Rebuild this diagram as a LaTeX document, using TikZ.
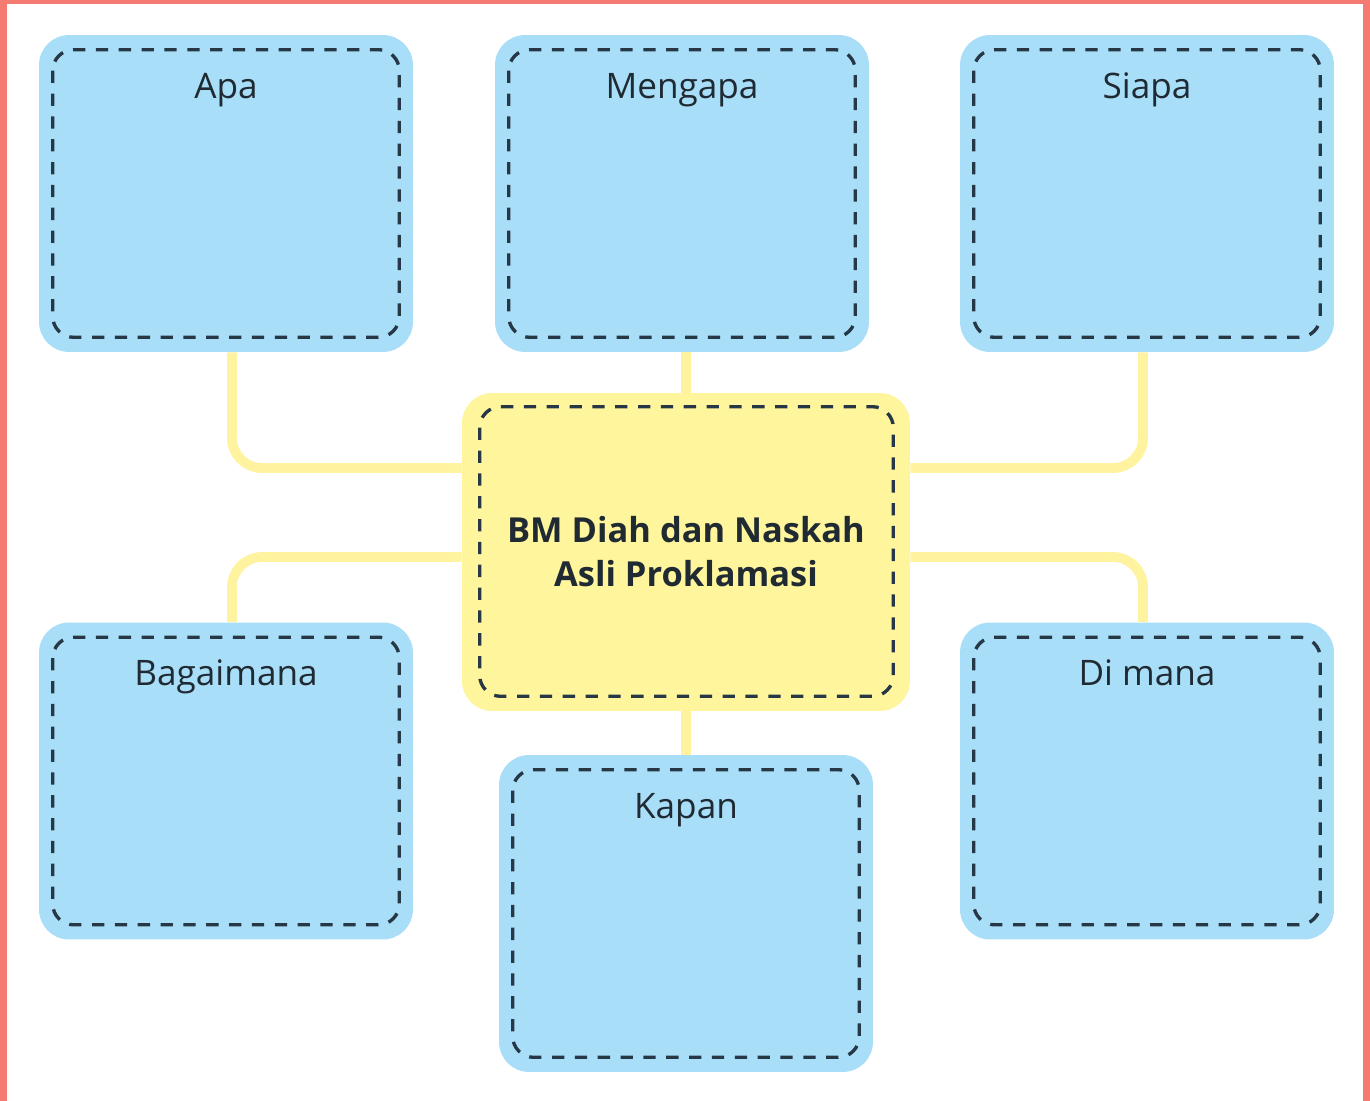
\documentclass[tikz,border=0pt]{standalone}
\usepackage{fontspec}
\setmainfont{Open Sans}
\usetikzlibrary{calc}
\usetikzlibrary{positioning}

\definecolor{boxblue}{HTML}{A9DEF9}
\definecolor{boxyellow}{HTML}{FFF59C}
\definecolor{linkyellow}{HTML}{FFF3A0}
\definecolor{dashink}{HTML}{263845}
\definecolor{frame}{HTML}{F47A72}
\definecolor{ink}{HTML}{1F2A33}

\tikzset{
  qbox/.style={fill=boxblue, rounded corners=0.6cm, inner sep=0pt,
    minimum width=7.48cm, minimum height=6.34cm},
  hub/.style={fill=boxyellow, rounded corners=0.6cm, inner sep=0pt,
    minimum width=8.96cm, minimum height=6.36cm,
    font=\fontsize{19.6}{25}\selectfont\bfseries, text=ink, align=center},
  inset/.style={draw=dashink, line width=1.9pt, rounded corners=0.42cm,
    dash pattern=on 7pt off 6pt},
  ttl/.style={anchor=base, font=\fontsize{20}{24}\selectfont, text=ink},
  link/.style={draw=linkyellow, line width=5.6pt, rounded corners=0.6cm}
}

\begin{document}
\begin{tikzpicture}[x=0.02cm, y=-0.02cm]
  \useasboundingbox (0,0) rectangle (1370,1101);

  % frame
  \fill[frame] (0,0) rectangle (1370,1101);
  \fill[white] (7,4) rectangle (1363,1101);

  % question boxes
  \node[qbox] (apa)     at (226,193.5)  {};
  \node[qbox] (mengapa) at (682,193.5)  {};
  \node[qbox] (siapa)   at (1147,193.5) {};
  \node[qbox] (bagai)   at (226,781)    {};
  \node[qbox] (kapan)   at (686,913.5)  {};
  \node[qbox] (dimana)  at (1147,781)   {};

  % centre
  \node[hub] (ctr) at (686,552) {BM Diah dan Naskah\\Asli Proklamasi};

  \foreach \b in {apa,mengapa,siapa,bagai,kapan,dimana}
    \draw[inset] ([shift={(14,15)}]\b.north west) rectangle ([shift={(-14,-15)}]\b.south east);
  \draw[inset] ([shift={(18,14)}]ctr.north west) rectangle ([shift={(-17,-15)}]ctr.south east);

  % titles
  \node[ttl] (apa-t)     at ([yshift=-1.27cm]apa.north)     {Apa};
  \node[ttl] (mengapa-t) at ([yshift=-1.27cm]mengapa.north) {Mengapa};
  \node[ttl] (siapa-t)   at ([yshift=-1.27cm]siapa.north)   {Siapa};
  \node[ttl] (bagai-t)   at ([yshift=-1.27cm]bagai.north)   {Bagaimana};
  \node[ttl] (kapan-t)   at ([yshift=-1.27cm]kapan.north)   {Kapan};
  \node[ttl] (dimana-t)  at ([yshift=-1.27cm]dimana.north)  {Di mana};

  % links
  \draw[link] ([xshift=0.12cm]apa.south) |- ([yshift=1.68cm]ctr.west);
  \draw[link] ([xshift=-0.08cm]siapa.south) |- ([yshift=1.68cm]ctr.east);
  \draw[link] ([xshift=0.12cm]bagai.north) |- ([yshift=-0.1cm]ctr.west);
  \draw[link] ([xshift=-0.08cm]dimana.north) |- ([yshift=-0.1cm]ctr.east);
  \draw[link] (ctr.north) -- (ctr.north |- mengapa.south);
  \draw[link] (ctr.south) -- (ctr.south |- kapan.north);
\end{tikzpicture}
\end{document}
